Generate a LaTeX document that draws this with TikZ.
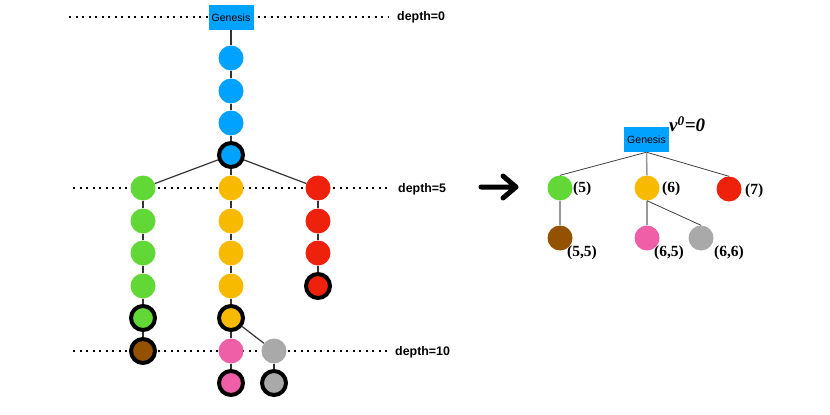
\documentclass[tikz,border=0pt]{standalone}
\usepackage{fontspec}
\setmainfont{Liberation Sans}
\newfontfamily\seriffont{Liberation Serif}
\definecolor{kblue}{HTML}{00A2FF}
\definecolor{kgreen}{HTML}{61D836}
\definecolor{kyellow}{HTML}{F8BA00}
\definecolor{kred}{HTML}{EE220C}
\definecolor{kbrown}{HTML}{945200}
\definecolor{kpink}{HTML}{EF5FA7}
\definecolor{kgray}{HTML}{A9A9A9}
\begin{document}
\begin{tikzpicture}[x=1pt,y=-1pt,
  blk/.style={circle,draw=none,minimum size=25pt,inner sep=0pt},
  tip/.style={circle,draw=black,line width=4pt,minimum size=24pt,inner sep=0pt},
  gen/.style={rectangle,fill=kblue,draw=none,minimum width=45pt,minimum height=25pt,inner sep=0pt,font=\fontsize{10.5}{11}\selectfont},
  depthline/.style={line width=2pt,dash pattern=on 2pt off 4.5pt,black},
  depthlbl/.style={anchor=west,font=\bfseries\fontsize{12.4}{13}\selectfont,inner sep=0pt},
  link/.style={draw=black!80,line width=1.2pt},
  rlink/.style={draw=black!75,line width=0.8pt},
  vlink/.style={draw=black!40,line width=1.5pt},
  lbl/.style={anchor=west,inner sep=0pt,font=\seriffont\bfseries\fontsize{15.5}{16}\selectfont}]
\useasboundingbox (0,0) rectangle (830,415);
% depth lines
\coordinate (d0a) at (69,17);  \coordinate (d0b) at (388,17);
\coordinate (d5a) at (73,188); \coordinate (d5b) at (388,188);
\coordinate (d10a) at (73,351); \coordinate (d10b) at (388,351);
\draw[depthline] (d0a) -- (d0b);
\draw[depthline] (d5a) -- (d5b);
\draw[depthline] (d10a) -- (d10b);
\node[depthlbl] (l0) at (397,17) {depth=0};
\node[depthlbl] (l5) at (398,189) {depth=5};
\node[depthlbl] (l10) at (395,352) {depth=10};
% left tree nodes
\node[gen] (g0) at (231,17.5) {Genesis};
\node[blk,fill=kblue] (b1) at (231,58) {};
\node[blk,fill=kblue] (b2) at (231,91) {};
\node[blk,fill=kblue] (b3) at (231,123) {};
\node[tip,fill=kblue] (b4) at (231,155) {};
\node[blk,fill=kgreen] (gr1) at (143,188) {};
\node[blk,fill=kgreen] (gr2) at (143,221) {};
\node[blk,fill=kgreen] (gr3) at (143,253) {};
\node[blk,fill=kgreen] (gr4) at (143,286) {};
\node[tip,fill=kgreen] (gr5) at (143,318) {};
\node[tip,fill=kbrown] (br) at (143,351) {};
\node[blk,fill=kyellow] (y1) at (231,188) {};
\node[blk,fill=kyellow] (y2) at (231,221) {};
\node[blk,fill=kyellow] (y3) at (231,253) {};
\node[blk,fill=kyellow] (y4) at (231,286) {};
\node[tip,fill=kyellow] (y5) at (231,318) {};
\node[blk,fill=kpink] (p1) at (231,351) {};
\node[tip,fill=kpink] (p2) at (231,383) {};
\node[blk,fill=kgray] (a1) at (274,351) {};
\node[tip,fill=kgray] (a2) at (274,383) {};
\node[blk,fill=kred] (r1) at (318,188) {};
\node[blk,fill=kred] (r2) at (318,221) {};
\node[blk,fill=kred] (r3) at (318,253) {};
\node[tip,fill=kred] (r4) at (318,286) {};
% left tree edges
\draw[link] (g0) -- (b1);
\draw[link] (b1) -- (b2);
\draw[link] (b2) -- (b3);
\draw[link] (b3) -- (b4);
\draw[link] (b4) -- (gr1);
\draw[link] (b4) -- (y1);
\draw[link] (b4) -- (r1);
\draw[link] (gr1) -- (gr2);
\draw[link] (gr2) -- (gr3);
\draw[link] (gr3) -- (gr4);
\draw[link] (gr4) -- (gr5);
\draw[link] (gr5) -- (br);
\draw[link] (y1) -- (y2);
\draw[link] (y2) -- (y3);
\draw[link] (y3) -- (y4);
\draw[link] (y4) -- (y5);
\draw[link] (y5) -- (p1);
\draw[link] (y5) -- (a1);
\draw[link] (p1) -- (p2);
\draw[link] (a1) -- (a2);
\draw[link] (r1) -- (r2);
\draw[link] (r2) -- (r3);
\draw[link] (r3) -- (r4);
% arrow
\draw[line width=5pt,line cap=round,line join=round] (481,187) -- (515,187) (503,176) -- (516,187) -- (503,198);
% right tree
\node[gen] (G) at (646.5,139.5) {Genesis};
\node[anchor=west,inner sep=0pt,font=\seriffont\bfseries\itshape\fontsize{19}{20}\selectfont] (v0) at (669,124) {v\textsuperscript{0}=0};
\node[blk,fill=kgreen] (R5) at (560,188) {};
\node[blk,fill=kyellow] (R6) at (647,188) {};
\node[blk,fill=kred] (R7) at (729,189) {};
\node[blk,fill=kbrown] (R55) at (560,238) {};
\node[blk,fill=kpink] (R65) at (647,238) {};
\node[blk,fill=kgray] (R66) at (701,238) {};
\draw[rlink] (G.south) -- (R5.north);
\draw[vlink] (G.south) -- (R6.north);
\draw[rlink] (G.south) -- (R7.north);
\draw[vlink] (R5) -- (R55);
\draw[vlink] (R6) -- (R65);
\draw[rlink] (R6.south) -- (R66.north);
\node[lbl] (t5) at (573,189) {(5)};
\node[lbl] (t6) at (662,189) {(6)};
\node[lbl] (t7) at (745,191) {(7)};
\node[lbl] (t55) at (567,253) {(5,5)};
\node[lbl] (t65) at (654,253) {(6,5)};
\node[lbl] (t66) at (714,253) {(6,6)};
\end{tikzpicture}
\end{document}
